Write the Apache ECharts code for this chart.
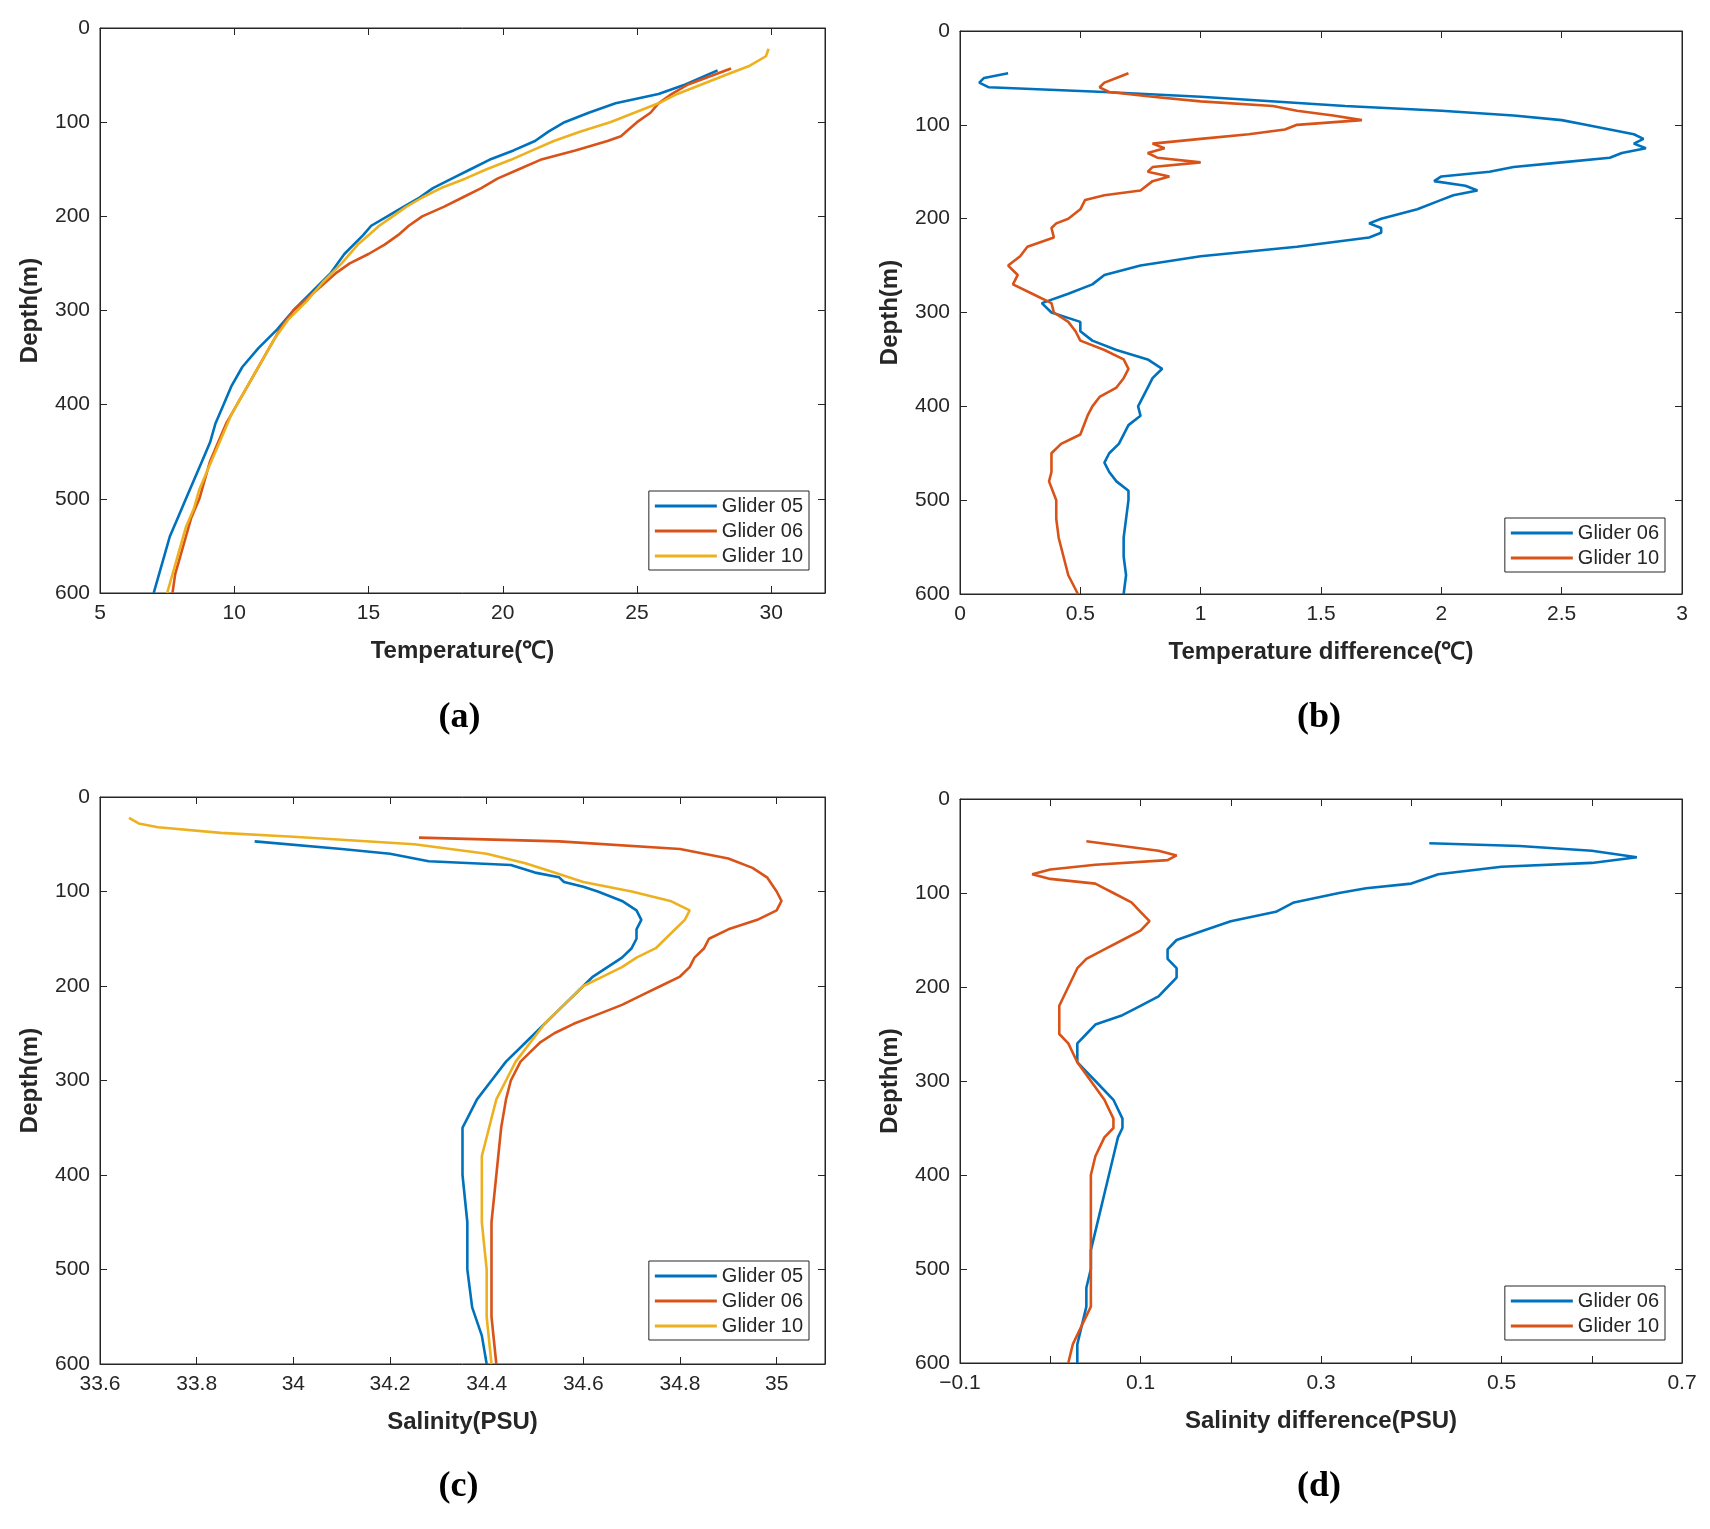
<!DOCTYPE html>
<html><head><meta charset="utf-8">
<script src="https://cdn.jsdelivr.net/npm/echarts@6/dist/echarts.min.js"></script>
<style>html,body{margin:0;background:#fff}#c{width:1710px;height:1529px}</style>
</head><body><div id="c"></div>
<script>
// [depth, value]
const tempG05=[[45,28.0],[60,26.8],[70,25.8],[80,24.2],[90,23.2],[100,22.3],[110,21.7],[120,21.2],[130,20.4],[140,19.5],[150,18.8],[160,18.1],[170,17.4],[180,16.9],[190,16.3],[200,15.7],[210,15.1],[220,14.8],[240,14.1],[260,13.6],[280,12.9],[300,12.2],[320,11.6],[340,10.9],[360,10.3],[380,9.9],[400,9.6],[420,9.3],[440,9.1],[460,8.8],[480,8.5],[500,8.2],[520,7.9],[540,7.6],[560,7.4],[580,7.2],[600,7.0]];
const tempG06=[[43,28.5],[60,26.9],[70,26.3],[80,25.8],[90,25.5],[100,25.0],[110,24.6],[115,24.4],[120,23.9],[130,22.7],[140,21.4],[150,20.6],[160,19.8],[170,19.2],[180,18.5],[190,17.8],[200,17.0],[210,16.5],[220,16.1],[230,15.6],[240,15.0],[250,14.3],[260,13.8],[280,13.0],[300,12.2],[320,11.7],[340,11.3],[360,10.9],[380,10.5],[400,10.1],[420,9.7],[440,9.4],[460,9.1],[480,8.9],[500,8.7],[520,8.4],[540,8.2],[560,8.0],[580,7.8],[600,7.7]];
const tempG10=[[22,29.9],[30,29.8],[40,29.2],[50,28.3],[60,27.4],[70,26.5],[80,25.8],[90,24.9],[100,24.0],[110,22.9],[120,21.9],[130,21.1],[140,20.3],[150,19.4],[160,18.6],[170,17.7],[180,17.0],[190,16.4],[200,15.9],[210,15.4],[220,15.0],[230,14.6],[250,14.0],[270,13.3],[290,12.7],[310,12.0],[330,11.5],[350,11.1],[370,10.7],[390,10.3],[410,9.9],[430,9.6],[450,9.3],[470,9.0],[490,8.7],[510,8.5],[530,8.2],[550,8.0],[570,7.8],[600,7.5]];
const tdiffG06=[[45,0.2],[50,0.1],[55,0.08],[60,0.12],[65,0.6],[70,1.0],[80,1.6],[85,2.0],[90,2.3],[95,2.5],[100,2.6],[105,2.7],[110,2.8],[115,2.84],[120,2.8],[125,2.85],[130,2.75],[135,2.7],[140,2.5],[145,2.3],[150,2.2],[155,2.0],[160,1.97],[165,2.1],[170,2.15],[175,2.05],[180,2.0],[190,1.9],[200,1.75],[205,1.7],[210,1.75],[215,1.75],[220,1.7],[230,1.4],[240,1.0],[250,0.75],[260,0.6],[270,0.55],[280,0.45],[290,0.34],[300,0.38],[310,0.5],[320,0.5],[330,0.55],[340,0.65],[350,0.78],[360,0.84],[370,0.8],[380,0.78],[400,0.74],[410,0.75],[420,0.7],[440,0.66],[450,0.62],[460,0.6],[470,0.62],[480,0.65],[490,0.7],[500,0.7],[520,0.69],[540,0.68],[560,0.68],[580,0.69],[600,0.68]];
const tdiffG10=[[45,0.7],[50,0.65],[55,0.6],[60,0.58],[65,0.62],[70,0.8],[75,1.0],[80,1.3],[85,1.4],[90,1.55],[95,1.67],[100,1.4],[105,1.35],[110,1.2],[115,1.0],[120,0.8],[125,0.85],[130,0.78],[135,0.82],[140,1.0],[145,0.8],[150,0.78],[155,0.87],[160,0.8],[170,0.75],[175,0.6],[180,0.52],[190,0.5],[200,0.45],[205,0.4],[210,0.38],[220,0.39],[230,0.28],[240,0.25],[250,0.2],[260,0.24],[270,0.22],[280,0.3],[290,0.38],[300,0.39],[310,0.45],[320,0.48],[330,0.5],[340,0.6],[350,0.68],[360,0.7],[370,0.68],[380,0.65],[390,0.58],[400,0.55],[410,0.53],[430,0.5],[440,0.42],[450,0.38],[470,0.38],[480,0.37],[500,0.4],[520,0.4],[540,0.41],[560,0.43],[580,0.45],[600,0.49]];
const salG05=[[47,33.92],[55,34.1],[60,34.2],[68,34.28],[72,34.45],[80,34.5],[85,34.55],[90,34.56],[95,34.6],[100,34.63],[110,34.68],[120,34.71],[130,34.72],[140,34.71],[150,34.71],[160,34.7],[170,34.68],[180,34.65],[190,34.62],[200,34.6],[210,34.58],[220,34.56],[240,34.52],[260,34.48],[280,34.44],[300,34.41],[320,34.38],[340,34.36],[350,34.35],[400,34.35],[450,34.36],[500,34.36],[540,34.37],[570,34.39],[600,34.4]];
const salG06=[[43,34.26],[47,34.55],[55,34.8],[65,34.9],[75,34.95],[85,34.98],[100,35.0],[110,35.01],[120,35.0],[130,34.96],[140,34.9],[150,34.86],[160,34.85],[170,34.83],[180,34.82],[190,34.8],[200,34.76],[210,34.72],[220,34.68],[230,34.63],[240,34.58],[250,34.54],[260,34.51],[270,34.49],[280,34.47],[300,34.45],[320,34.44],[350,34.43],[400,34.42],[450,34.41],[500,34.41],[550,34.41],[600,34.42]];
const salG10=[[22,33.66],[28,33.68],[32,33.72],[38,33.85],[42,34.0],[50,34.25],[60,34.4],[70,34.48],[80,34.54],[90,34.6],[100,34.7],[110,34.78],[115,34.8],[120,34.82],[130,34.81],[140,34.79],[150,34.77],[160,34.75],[170,34.71],[180,34.68],[190,34.64],[200,34.6],[210,34.58],[220,34.56],[240,34.52],[260,34.49],[280,34.46],[300,34.44],[320,34.42],[340,34.41],[360,34.4],[380,34.39],[400,34.39],[450,34.39],[500,34.4],[550,34.4],[600,34.41]];
const sdiffG06=[[47,0.42],[50,0.52],[55,0.6],[62,0.65],[68,0.6],[72,0.5],[80,0.43],[90,0.4],[95,0.35],[100,0.32],[110,0.27],[120,0.25],[130,0.2],[140,0.17],[150,0.14],[160,0.13],[170,0.13],[180,0.14],[190,0.14],[200,0.13],[210,0.12],[220,0.1],[230,0.08],[240,0.05],[250,0.04],[260,0.03],[270,0.03],[280,0.03],[290,0.04],[300,0.05],[320,0.07],[340,0.08],[350,0.08],[360,0.075],[380,0.07],[400,0.065],[420,0.06],[440,0.055],[460,0.05],[480,0.045],[500,0.045],[520,0.04],[540,0.04],[560,0.035],[580,0.03],[600,0.03]];
const sdiffG10=[[45,0.04],[55,0.12],[60,0.14],[65,0.13],[70,0.05],[75,0.0],[80,-0.02],[85,0.0],[90,0.05],[95,0.06],[100,0.07],[110,0.09],[120,0.1],[130,0.11],[140,0.1],[150,0.08],[160,0.06],[170,0.04],[180,0.03],[200,0.02],[220,0.01],[240,0.01],[250,0.01],[260,0.02],[280,0.03],[300,0.045],[320,0.06],[340,0.07],[350,0.07],[360,0.06],[380,0.05],[400,0.045],[450,0.045],[500,0.045],[540,0.045],[560,0.035],[580,0.025],[600,0.02]];
const depthTicks=[0,100,200,300,400,500,600];

const C={g05:'#0072BD',g06:'#D95319',g10:'#EDB120'};
const FONT='Liberation Sans';
const panels=[
 {l:100,r:885,t:28,b:936,xmin:5,xmax:32,xi:5,maxL:false,title:'Temperature(℃)',tag:'(a)',ser:[['Glider 05',tempG05,C.g05],['Glider 06',tempG06,C.g06],['Glider 10',tempG10,C.g10]],lr:901,lt:491},
 {l:960,r:28,t:31,b:935,xmin:0,xmax:3,xi:0.5,maxL:true,title:'Temperature difference(℃)',tag:'(b)',ser:[['Glider 06',tdiffG06,C.g05],['Glider 10',tdiffG10,C.g06]],lr:45,lt:518},
 {l:100,r:885,t:797,b:165,xmin:33.6,xmax:35.1,xi:0.2,maxL:false,title:'Salinity(PSU)',tag:'(c)',ser:[['Glider 05',salG05,C.g05],['Glider 06',salG06,C.g06],['Glider 10',salG10,C.g10]],lr:901,lt:1261},
 {l:960,r:28,t:799,b:166,xmin:-0.1,xmax:0.7,xi:0.1,maxL:true,title:'Salinity difference(PSU)',tag:'(d)',ser:[['Glider 06',sdiffG06,C.g05],['Glider 10',sdiffG10,C.g06]],lr:45,lt:1286,odd:true}
];
const opt={animation:false,backgroundColor:'#fff',grid:[],xAxis:[],yAxis:[],series:[],legend:[],graphic:[]};
const ax={color:'#262626',width:1};
panels.forEach((p,i)=>{
  opt.grid.push({left:p.l,right:p.r,top:p.t,bottom:p.b,show:true,borderColor:'#262626',borderWidth:1});
  const fmt=v=>{
    let s=+v.toFixed(2);
    if(p.odd){const k=Math.round((s+0.1)*10); if(k%2) return ''; }
    return String(s).replace('-','−');
  };
  opt.xAxis.push({type:'value',gridIndex:i,min:p.xmin,max:p.xmax,interval:p.xi,position:'bottom',
    axisLine:{onZero:false,lineStyle:ax},axisTick:{inside:true,length:7,lineStyle:ax},splitLine:{show:false},
    axisLabel:{formatter:fmt,fontFamily:FONT,fontSize:21,color:'#262626',margin:10,showMaxLabel:p.maxL},
    name:p.title,nameLocation:'middle',nameGap:46,nameTextStyle:{fontFamily:FONT,fontSize:24,fontWeight:'bold',color:'#262626'}});
  opt.xAxis.push({type:'value',gridIndex:i,min:p.xmin,max:p.xmax,interval:p.xi,position:'top',
    axisLine:{onZero:false,lineStyle:ax},axisTick:{inside:true,length:7,lineStyle:ax},axisLabel:{show:false},splitLine:{show:false}});
  opt.yAxis.push({type:'value',gridIndex:i,min:0,max:600,interval:100,inverse:true,position:'left',
    axisLine:{onZero:false,lineStyle:ax},axisTick:{inside:true,length:7,lineStyle:ax},splitLine:{show:false},
    axisLabel:{fontFamily:FONT,fontSize:21,color:'#262626',margin:10,formatter:v=>depthTicks.includes(v)?String(v):''},
    name:'Depth(m)',nameLocation:'middle',nameGap:58,nameTextStyle:{fontFamily:FONT,fontSize:24,fontWeight:'bold',color:'#262626'}});
  opt.yAxis.push({type:'value',gridIndex:i,min:0,max:600,interval:100,inverse:true,position:'right',
    axisLine:{onZero:false,lineStyle:ax},axisTick:{inside:true,length:7,lineStyle:ax},axisLabel:{show:false},splitLine:{show:false}});
  p.ser.forEach(s=>{
    opt.series.push({type:'line',name:s[0]+'#'+i,xAxisIndex:2*i,yAxisIndex:2*i,showSymbol:false,symbol:'none',
      data:s[1].map(d=>[d[1],d[0]]),lineStyle:{color:s[2],width:2.6},itemStyle:{color:s[2]}});
  });
  opt.legend.push({data:p.ser.map(s=>({name:s[0]+'#'+i,itemStyle:{color:s[2]}})),formatter:n=>n.split('#')[0],
    orient:'vertical',right:p.lr,top:p.lt,backgroundColor:'#fff',borderColor:'#262626',borderWidth:1,borderRadius:0,
    padding:[5,6,4,6],itemGap:5,itemWidth:62,itemHeight:16,icon:'path://M0,7 L62,7 L62,10 L0,10 Z',
    textStyle:{fontFamily:FONT,fontSize:20,color:'#262626'}});
  const cx=(p.l+(1710-p.r))/2;
  opt.graphic.push({type:'text',left:cx-24,top:i<2?700:1469,style:{text:p.tag,font:'bold 36px "Liberation Serif"',fill:'#000'}});
});
echarts.init(document.getElementById('c')).setOption(opt);
</script></body></html>
